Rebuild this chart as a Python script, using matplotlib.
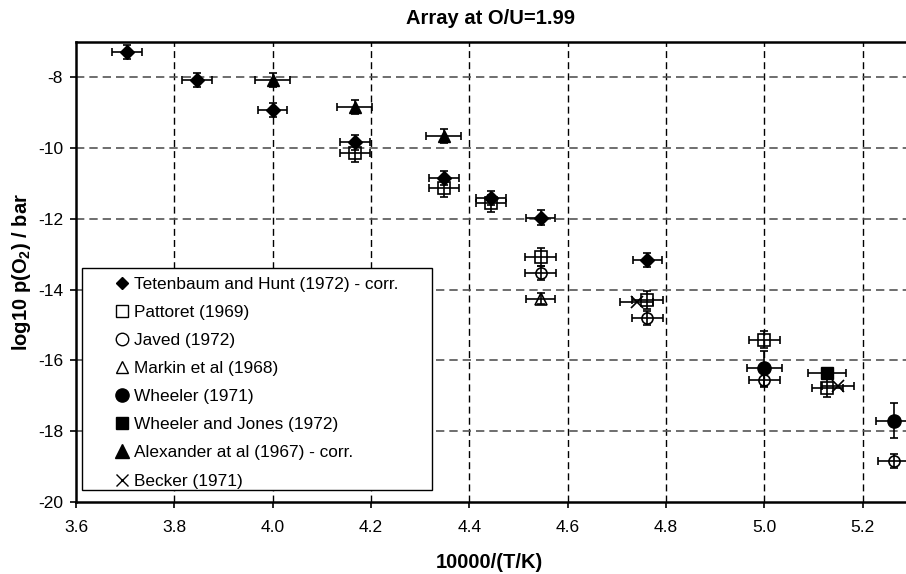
import matplotlib
matplotlib.use("Agg")
import matplotlib.pyplot as plt
from matplotlib.lines import Line2D
from matplotlib.patches import Rectangle

plt.rcParams['font.family'] = ['Liberation Sans', 'DejaVu Sans']
plt.rcParams['mathtext.fontset'] = 'custom'
plt.rcParams['mathtext.rm'] = 'Liberation Sans'
plt.rcParams['mathtext.bf'] = 'Liberation Sans:bold'

# ---- data ----
tet_x = [3.704, 3.846, 4.000, 4.167, 4.348, 4.444, 4.545, 4.762]
tet_y = [-7.28, -8.07, -8.92, -9.84, -10.85, -11.41, -11.96, -13.16]

pat_x = [4.167, 4.348, 4.444, 4.545, 4.762, 5.000, 5.128]
pat_y = [-10.15, -11.12, -11.56, -13.07, -14.30, -15.41, -16.78]

jav_x = [4.545, 4.762, 5.000, 5.263]
jav_y = [-13.54, -14.80, -16.54, -18.84]

mar_x = [4.545]
mar_y = [-14.25]

whe_x = [5.000, 5.263]
whe_y = [-16.22, -17.70]

wj_x = [5.128]
wj_y = [-16.35]

ale_x = [4.000, 4.167, 4.348]
ale_y = [-8.08, -8.83, -9.65]

bec_x = [4.740, 5.150]
bec_y = [-14.34, -16.73]

labels = ["Tetenbaum and Hunt (1972) - corr.", "Pattoret (1969)", "Javed (1972)",
          "Markin et al (1968)", "Wheeler (1971)", "Wheeler and Jones (1972)",
          "Alexander at al (1967) - corr.", "Becker (1971)"]

xticks = [3.6, 3.8, 4.0, 4.2, 4.4, 4.6, 4.8, 5.0, 5.2]
yticks = [-20, -18, -16, -14, -12, -10, -8]

W, H = 906, 574
fig = plt.figure(figsize=(W / 100, H / 100), dpi=100)
ax_left, ax_bottom, ax_top = 76, 502, 42
x_per_unit = 491.7
ax_right = ax_left + 1.7 * x_per_unit
ax = fig.add_axes([ax_left / W, 1 - ax_bottom / H, (ax_right - ax_left) / W, (ax_bottom - ax_top) / H])
ax.set_xlim(3.6, 5.3)
ax.set_ylim(-20, -7)

for xv in xticks[1:]:
    ax.axvline(xv, color='black', lw=1.0, ls=(0, (5, 3)), zorder=1)
for yv in yticks[1:]:
    ax.axhline(yv, color='#555555', lw=1.2, ls=(0, (5, 3)), zorder=1)

ebkw = dict(ecolor='black', elinewidth=1.2, capsize=3.0, capthick=1.2, linestyle='none', zorder=3)

ax.errorbar(tet_x, tet_y, xerr=0.030, yerr=0.20, marker='D', ms=7, mfc='black', mec='black', **ebkw)
ax.errorbar(ale_x, ale_y, xerr=0.036, yerr=0.20, marker='^', ms=9, mfc='black', mec='black', **ebkw)
ax.errorbar(pat_x, pat_y, xerr=0.031, yerr=0.25, marker='s', ms=8, mfc='none', mec='black', mew=1.2, **ebkw)
ax.errorbar(jav_x, jav_y, xerr=0.031, yerr=0.20, marker='o', ms=8, mfc='none', mec='black', mew=1.2, **ebkw)
ax.errorbar(mar_x, mar_y, xerr=0.030, yerr=0.15, marker='^', ms=8, mfc='none', mec='black', mew=1.2, **ebkw)
ax.errorbar(whe_x, whe_y, xerr=0.036, yerr=0.50, marker='o', ms=9.5, mfc='black', mec='black', **ebkw)
ax.errorbar(wj_x, wj_y, xerr=0.039, yerr=0.10, marker='s', ms=9, mfc='black', mec='black', **ebkw)
ax.errorbar(bec_x, bec_y, xerr=0.033, marker='x', ms=9, mec='black', mew=1.2, **ebkw)

ax.set_xticks(xticks)
ax.set_xticklabels([f"{v:.1f}" for v in xticks])
ax.set_yticks(yticks)
ax.set_yticklabels([str(v) for v in yticks])
ax.tick_params(direction='out', length=4.3, width=1.2, labelsize=12.5, colors='black')
ax.tick_params(axis='x', pad=9)
ax.tick_params(axis='y', pad=5)
for s in ax.spines.values():
    s.set_linewidth(1.8)
    s.set_color('black')

fig.text(491 / W, 1 - 18 / H, "Array at O/U=1.99", ha='center', va='center', fontsize=14.5, fontweight='bold')
fig.text(489 / W, 1 - 562 / H, "10000/(T/K)", ha='center', va='center', fontsize=14.5, fontweight='bold')
fig.text(22 / W, 1 - 272 / H, r"log10 p(O$_\mathbf{2}$) / bar", ha='center', va='center',
         rotation=90, fontsize=14.5, fontweight='bold')

# legend frame
fig.patches.append(Rectangle((81.7 / W, 1 - 490 / H), (431.7 - 81.7) / W, (490 - 268.3) / H,
                             transform=fig.transFigure, facecolor='white', edgecolor='black',
                             lw=1.0, zorder=5))

handles = [
    Line2D([], [], ls='none', marker='D', ms=6.5, mfc='black', mec='black'),
    Line2D([], [], ls='none', marker='s', ms=9, mfc='none', mec='black', mew=1.0),
    Line2D([], [], ls='none', marker='o', ms=9, mfc='none', mec='black', mew=1.0),
    Line2D([], [], ls='none', marker='^', ms=9, mfc='none', mec='black', mew=1.0),
    Line2D([], [], ls='none', marker='o', ms=9.5, mfc='black', mec='black'),
    Line2D([], [], ls='none', marker='s', ms=9, mfc='black', mec='black'),
    Line2D([], [], ls='none', marker='^', ms=9.5, mfc='black', mec='black'),
    Line2D([], [], ls='none', marker='x', ms=9, mec='black', mew=1.0),
]
leg = fig.legend(handles, labels, loc='upper left', bbox_to_anchor=(115.5 / W, 1 - 276.5 / H),
                 frameon=False, fontsize=12.4, handlelength=0.8, handletextpad=0.3,
                 labelspacing=0.76, borderpad=0.0, borderaxespad=0.0, numpoints=1)
leg.set_zorder(6)

fig.savefig("out.png", dpi=100)
